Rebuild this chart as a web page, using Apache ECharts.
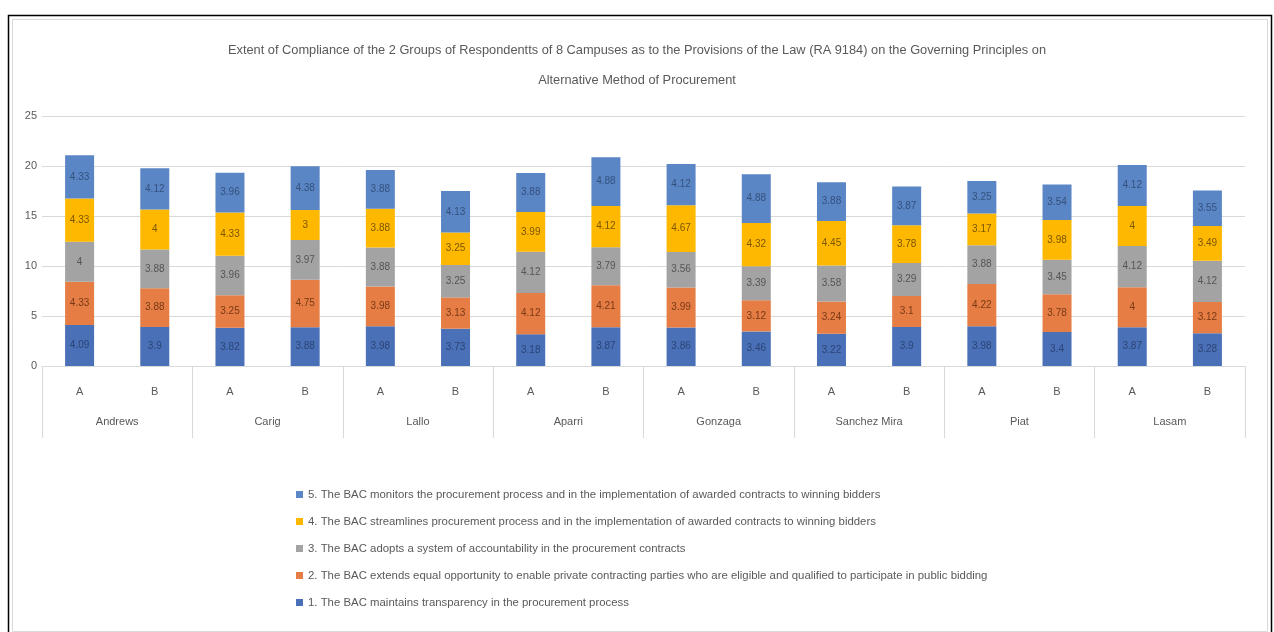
<!DOCTYPE html>
<html>
<head>
<meta charset="utf-8">
<script src="https://cdn.jsdelivr.net/npm/echarts@6/dist/echarts.min.js"></script>
<style>
html,body{margin:0;padding:0;background:#fff;}
#c{width:1274px;height:632px;}
</style>
</head>
<body>
<div id="c"></div>
<script>
const groups = ['Andrews','Carig','Lallo','Aparri','Gonzaga','Sanchez Mira','Piat','Lasam'];
const subLabels = ['A','B','A','B','A','B','A','B','A','B','A','B','A','B','A','B'];
const seriesNames = [
  '1. The BAC maintains transparency in the procurement process',
  '2. The BAC extends equal opportunity to enable private contracting parties who are eligible and qualified to participate in public bidding',
  '3. The BAC adopts a system of accountability in the procurement contracts',
  '4. The BAC streamlines procurement process and in the implementation of awarded contracts to winning bidders',
  '5. The BAC monitors the procurement process and in the implementation of awarded contracts to winning bidders'
];
const s1 = [4.09, 3.9, 3.82, 3.88, 3.98, 3.73, 3.18, 3.87, 3.86, 3.46, 3.22, 3.9, 3.98, 3.4, 3.87, 3.28];
const s2 = [4.33, 3.88, 3.25, 4.75, 3.98, 3.13, 4.12, 4.21, 3.99, 3.12, 3.24, 3.1, 4.22, 3.78, 4, 3.12];
const s3 = [4, 3.88, 3.96, 3.97, 3.88, 3.25, 4.12, 3.79, 3.56, 3.39, 3.58, 3.29, 3.88, 3.45, 4.12, 4.12];
const s4 = [4.33, 4, 4.33, 3, 3.88, 3.25, 3.99, 4.12, 4.67, 4.32, 4.45, 3.78, 3.17, 3.98, 4, 3.49];
const s5 = [4.33, 4.12, 3.96, 4.38, 3.88, 4.13, 3.88, 4.88, 4.12, 4.88, 3.88, 3.87, 3.25, 3.54, 4.12, 3.55];
const yTicks = [0, 5, 10, 15, 20, 25];

const colors = ['#4a70b8', '#e57d44', '#a3a3a3', '#ffb800', '#5b86c5'];
const labelColors = ['#2c4475', '#7a3a16', '#555555', '#7a5600', '#34517e'];
const dataSets = [s1, s2, s3, s4, s5];
const FONT = '"Liberation Sans Narrow", "Arial Narrow", "Liberation Sans", sans-serif';

const chart = echarts.init(document.getElementById('c'), null, {renderer: 'canvas'});
const series = dataSets.map((d, i) => ({
  name: seriesNames[i],
  type: 'bar',
  stack: 'total',
  xAxisIndex: 0,
  barWidth: 29,
  data: d,
  itemStyle: {color: colors[i]},
  label: {
    show: true, position: 'inside', fontSize: 10, fontFamily: FONT,
    color: labelColors[i]
  }
}));

chart.setOption({
  animation: false,
  textStyle: {fontFamily: FONT},
  title: {
    text: 'Extent of Compliance of the 2 Groups of Respondentts of 8 Campuses as to the Provisions of the Law (RA 9184) on the Governing Principles on\nAlternative Method of Procurement',
    left: 'center', top: 30,
    textStyle: {fontSize: 12.8, fontWeight: 'normal', color: '#595959', lineHeight: 30, fontFamily: FONT}
  },
  graphic: [
    {type: 'rect', shape: {x: 8.5, y: 15.5, width: 1263, height: 620}, style: {fill: 'none', stroke: '#000', lineWidth: 1.5}},
    {type: 'rect', shape: {x: 12.5, y: 19.5, width: 1255, height: 612}, style: {fill: 'none', stroke: '#d9d9d9', lineWidth: 1}}
  ],
  legend: {
    orient: 'vertical', left: 291, top: 484,
    itemWidth: 7, itemHeight: 7, itemGap: 16,
    icon: 'rect',
    data: seriesNames.slice().reverse(),
    textStyle: {fontSize: 11.4, color: '#595959', fontFamily: FONT}
  },
  grid: {left: 42, right: 29, top: 116, bottom: 266, containLabel: false},
  xAxis: [
    {
      type: 'category', data: subLabels,
      axisLine: {show: true, lineStyle: {color: '#d9d9d9'}},
      axisTick: {show: false},
      axisLabel: {color: '#595959', fontSize: 11, margin: 20, fontFamily: FONT}
    },
    {
      type: 'category', data: groups, position: 'bottom',
      axisLine: {show: false},
      axisTick: {show: true, length: 72, lineStyle: {color: '#d9d9d9'}},
      axisLabel: {color: '#595959', fontSize: 11, margin: 50, fontFamily: FONT}
    }
  ],
  yAxis: {
    type: 'value', min: yTicks[0], max: yTicks[yTicks.length - 1], interval: 5,
    axisLine: {show: false}, axisTick: {show: false},
    splitLine: {lineStyle: {color: '#d9d9d9'}},
    axisLabel: {color: '#595959', fontSize: 11, margin: 5, fontFamily: FONT}
  },
  series: series
});
</script>
</body>
</html>
